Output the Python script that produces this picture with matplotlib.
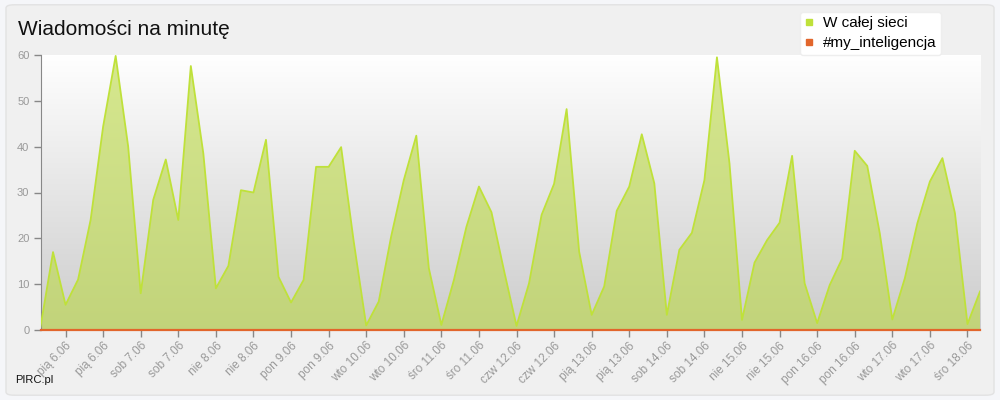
import matplotlib
matplotlib.use("Agg")
import matplotlib.pyplot as plt
import numpy as np
from matplotlib.patches import FancyBboxPatch, Polygon
from matplotlib.lines import Line2D

# messages per minute, one point every 4 hours
siec = [0.7, 17, 5.5, 11, 24, 44.4, 59.8, 40, 8, 28.4,
        37.2, 24, 57.6, 38.5, 9.1, 14, 30.5, 30, 41.5, 11.6,
        6, 10.9, 35.6, 35.6, 39.9, 19.4, 1, 6.2, 20.5, 32.7,
        42.4, 13.5, 1.1, 10.9, 22.5, 31.3, 25.7, 13, 0.9, 10.2,
        25.1, 31.9, 48.2, 17.1, 3.3, 9.5, 26, 31.3, 42.7, 32,
        3.3, 17.5, 21.2, 32.7, 59.5, 36.4, 2.2, 14.7, 19.6, 23.4,
        38, 10.2, 1.5, 9.8, 15.6, 39.1, 35.8, 21.1, 2.3, 11.3,
        23.3, 32.4, 37.5, 25.5, 1.3, 8.4]
inteligencja = [0] * len(siec)

tick_labels = ["pią 6.06", "pią 6.06", "sob 7.06", "sob 7.06", "nie 8.06", "nie 8.06",
               "pon 9.06", "pon 9.06", "wto 10.06", "wto 10.06", "śro 11.06", "śro 11.06",
               "czw 12.06", "czw 12.06", "pią 13.06", "pią 13.06", "sob 14.06", "sob 14.06",
               "nie 15.06", "nie 15.06", "pon 16.06", "pon 16.06", "wto 17.06", "wto 17.06",
               "śro 18.06"]

plt.rcParams['font.family'] = ['Liberation Sans', 'DejaVu Sans']

x = np.arange(len(siec))
fig = plt.figure(figsize=(10, 4), dpi=100)
fig.patch.set_facecolor('#f5f6f9')

# panel behind everything
panel = FancyBboxPatch((0.006, 0.012), 0.988, 0.976, boxstyle="round,pad=0,rounding_size=0.008",
                       transform=fig.transFigure, facecolor='#f0f0f0', edgecolor='#e2e2e2',
                       linewidth=1, zorder=-10)
fig.add_artist(panel)

ax = fig.add_axes([0.0405, 0.175, 0.9395, 0.6875])
ax.set_xlim(0, len(siec) - 1)
ax.set_ylim(0, 60)
ax.patch.set_alpha(0)

# background gradient white -> gray
bg = np.zeros((256, 1, 3))
top, bot = np.array([1.0, 1.0, 1.0]), np.array([0.80, 0.80, 0.80])
bg[:, 0, :] = bot + (top - bot) * np.linspace(0, 1, 256).reshape(-1, 1)
ax.imshow(bg, extent=[0, len(siec) - 1, 0, 60], aspect='auto', zorder=0, origin='lower')

# area fill with a gradient
ftop, fbot = np.array([0.84, 0.91, 0.56]), np.array([0.76, 0.83, 0.48])
fg = np.zeros((256, 1, 3))
fg[:, 0, :] = fbot + (ftop - fbot) * np.linspace(0, 1, 256).reshape(-1, 1)
im = ax.imshow(fg, extent=[0, len(siec) - 1, 0, 60], aspect='auto', zorder=1, origin='lower')
poly = Polygon(np.column_stack([np.r_[x, x[::-1]], np.r_[siec, np.zeros(len(siec))]]),
               closed=True, facecolor='none', edgecolor='none')
ax.add_patch(poly)
im.set_clip_path(poly)

ax.plot(x, siec, color='#bfe13a', linewidth=1.3, zorder=3)
ax.plot(x, inteligencja, color='#e2662c', linewidth=1.6, zorder=4, clip_on=False)

ax.set_yticks(range(0, 61, 10))
ax.set_xticks(x[2::3])
ax.set_xticklabels(tick_labels, rotation=45, ha='right', rotation_mode='anchor')
ax.tick_params(axis='x', colors='#888888', labelcolor='#999999', labelsize=8.5, length=5, width=1, pad=2)
ax.tick_params(axis='y', colors='#888888', labelcolor='#999999', labelsize=8, length=5, width=1, pad=3)
for s in ['top', 'right', 'bottom']:
    ax.spines[s].set_visible(False)
ax.spines['left'].set_color('#888888')

fig.text(0.018, 0.912, "Wiadomości na minutę", fontsize=15, color='#111111', va='baseline')
fig.text(0.015, 0.042, "PIRC.pl", fontsize=8, color='#111111', va='baseline')

handles = [Line2D([], [], marker='s', linestyle='none', color='#bfe13a', markersize=4),
           Line2D([], [], marker='s', linestyle='none', color='#e2662c', markersize=4)]
leg = fig.legend(handles, ["W całej sieci", "#my_inteligencja"], loc='upper left',
                 bbox_to_anchor=(0.792, 0.99), fontsize=11, frameon=True, fancybox=True,
                 facecolor='white', edgecolor='#eeeeee', framealpha=1, handlelength=0.6,
                 handletextpad=0.6, labelspacing=0.4, borderpad=0.3)

fig.savefig("out.png", dpi=100)
